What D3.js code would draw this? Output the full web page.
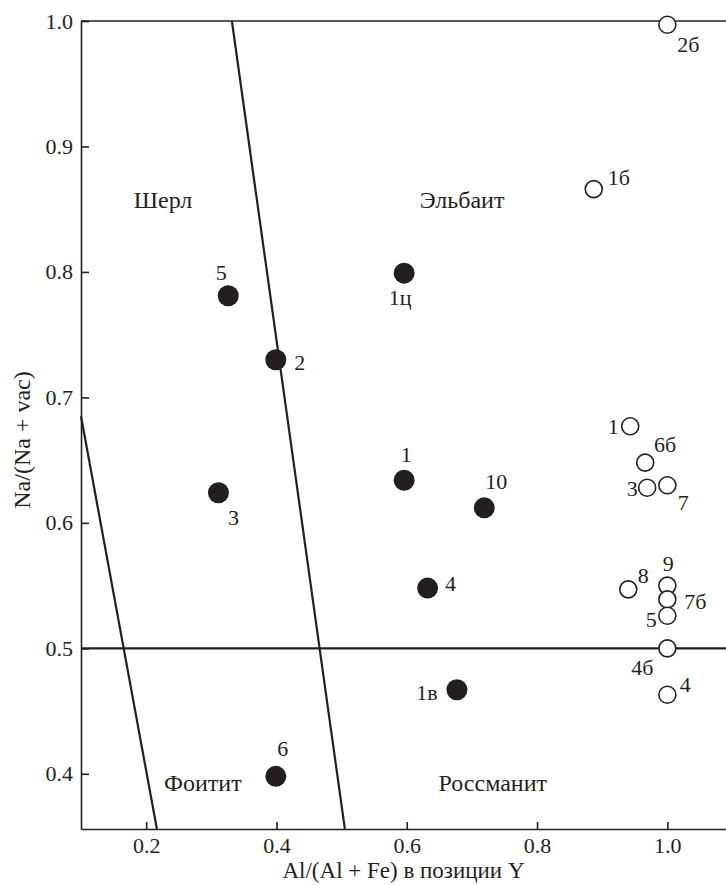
<!DOCTYPE html>
<html>
<head>
<meta charset="utf-8">
<script src="https://cdn.jsdelivr.net/npm/d3@7"></script>
<style>
  body { margin: 0; background: #fff; }
  svg text { font-family: "Liberation Serif", "DejaVu Serif", "Noto Serif", serif; fill: #231f20; }
</style>
</head>
<body>
<div id="chart"></div>
<script>
// data
const filledNames = ["5", "2", "1ц", "1", "3", "10", "4", "1в", "6"];
const filledX = [0.326, 0.399, 0.596, 0.596, 0.311, 0.719, 0.632, 0.677, 0.399];
const filledY = [0.781, 0.730, 0.799, 0.634, 0.624, 0.612, 0.548, 0.467, 0.398];

const openNames = ["2б", "1б", "1", "6б", "3", "7", "8", "9", "7б", "5", "4б", "4"];
const openX = [1.0, 0.887, 0.943, 0.966, 0.969, 1.0, 0.940, 1.0, 1.0, 1.0, 1.0, 1.0];
const openY = [0.997, 0.866, 0.677, 0.648, 0.628, 0.630, 0.547, 0.550, 0.539, 0.526, 0.500, 0.463];

const xTicks = [0.2, 0.4, 0.6, 0.8, 1.0];
const yTicks = [0.4, 0.5, 0.6, 0.7, 0.8, 0.9, 1.0];

const fieldNames = ["Шерл", "Эльбаит", "Фоитит", "Россманит"];
const fieldX = [0.226, 0.685, 0.287, 0.732];
const fieldY = [0.858, 0.858, 0.393, 0.393];

// field boundaries, in data units
const boundaries = [
  [[0.1, 0.685], [0.2165, 0.356]],
  [[0.3316, 1.0], [0.505, 0.356]],
  [[0.1, 0.5], [1.09, 0.5]]
];

// label placement (pixels from the point centre)
const filledLabelOffset = [[-7, -23], [24, 3], [-4, 24], [2, -26], [15, 25], [12, -27], [23, -5], [-30, 3], [7, -28]];
const openLabelOffset = [[21, 20], [25, -12], [-17, 0], [20, -18], [-15, 1], [16, 17], [15, -14], [1, -22], [28, 2], [-16, 4], [-25, 19], [18, -10]];

const ink = "#231f20";
const serif = '"Liberation Serif", "DejaVu Serif", "Noto Serif", serif';
const W = 726, H = 885;
const margin = { top: 21, right: 0, bottom: 56, left: 81 };
const width = W - margin.left - margin.right;
const height = H - margin.top - margin.bottom;

const svg = d3.select("#chart").append("svg")
  .attr("width", W)
  .attr("height", H)
  .style("font-family", serif);

const g = svg.append("g")
  .attr("transform", `translate(${margin.left},${margin.top})`);

const x = d3.scaleLinear().domain([0.1, 1.09]).range([0, width]);
const y = d3.scaleLinear().domain([0.356, 1.0]).range([height, 0]);

// axes, ticks pointing inwards
const xAxis = g.append("g")
  .attr("transform", `translate(0,${height})`)
  .call(d3.axisBottom(x).tickValues(xTicks).tickFormat(d3.format(".1f"))
    .tickSize(-7).tickSizeOuter(0).tickPadding(8));

const yAxis = g.append("g")
  .call(d3.axisLeft(y).tickValues(yTicks).tickFormat(d3.format(".1f"))
    .tickSize(-8).tickSizeOuter(0).tickPadding(8));

[xAxis, yAxis].forEach(a => {
  a.attr("font-family", null).attr("font-size", null);
  a.selectAll("path, line").attr("stroke", ink).attr("stroke-width", 1.6);
  a.selectAll("text").attr("font-size", 22).attr("fill", ink);
});

// top frame line
g.append("line")
  .attr("x1", x(0.1)).attr("x2", x(1.09))
  .attr("y1", y(1.0)).attr("y2", y(1.0))
  .attr("stroke", ink).attr("stroke-width", 1.6);

// boundaries
const line = d3.line().x(d => x(d[0])).y(d => y(d[1]));
g.selectAll(".boundary")
  .data(boundaries)
  .enter().append("path")
  .attr("class", "boundary")
  .attr("d", line)
  .attr("fill", "none")
  .attr("stroke", ink)
  .attr("stroke-width", 2.2);

// field names
g.selectAll(".field")
  .data(fieldNames)
  .enter().append("text")
  .attr("class", "field")
  .attr("x", (d, i) => x(fieldX[i]))
  .attr("y", (d, i) => y(fieldY[i]))
  .attr("dy", "0.35em")
  .attr("text-anchor", "middle")
  .attr("font-size", 24)
  .text(d => d);

// filled points
g.selectAll(".filled")
  .data(filledNames)
  .enter().append("circle")
  .attr("class", "filled")
  .attr("cx", (d, i) => x(filledX[i]))
  .attr("cy", (d, i) => y(filledY[i]))
  .attr("r", 10.5)
  .attr("fill", ink);

g.selectAll(".filledLabel")
  .data(filledNames)
  .enter().append("text")
  .attr("class", "filledLabel")
  .attr("x", (d, i) => x(filledX[i]) + filledLabelOffset[i][0])
  .attr("y", (d, i) => y(filledY[i]) + filledLabelOffset[i][1])
  .attr("dy", "0.35em")
  .attr("text-anchor", "middle")
  .attr("font-size", 22)
  .text(d => d);

// open points
g.selectAll(".open")
  .data(openNames)
  .enter().append("circle")
  .attr("class", "open")
  .attr("cx", (d, i) => x(openX[i]))
  .attr("cy", (d, i) => y(openY[i]))
  .attr("r", 8.5)
  .attr("fill", "#fff")
  .attr("stroke", ink)
  .attr("stroke-width", 1.6);

g.selectAll(".openLabel")
  .data(openNames)
  .enter().append("text")
  .attr("class", "openLabel")
  .attr("x", (d, i) => x(openX[i]) + openLabelOffset[i][0])
  .attr("y", (d, i) => y(openY[i]) + openLabelOffset[i][1])
  .attr("dy", "0.35em")
  .attr("text-anchor", "middle")
  .attr("font-size", 22)
  .text(d => d);

// axis titles
svg.append("text")
  .attr("x", margin.left + width / 2)
  .attr("y", H - 7)
  .attr("text-anchor", "middle")
  .attr("font-size", 23)
  .text("Al/(Al + Fe) в позиции Y");

svg.append("text")
  .attr("transform", `translate(30,${margin.top + height / 2 + 15}) rotate(-90)`)
  .attr("text-anchor", "middle")
  .attr("font-size", 24)
  .text("Na/(Na + vac)");
</script>
</body>
</html>
